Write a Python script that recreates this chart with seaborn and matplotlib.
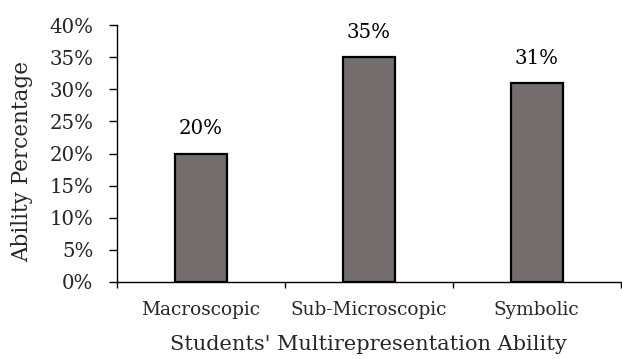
import matplotlib
matplotlib.use("Agg")
import matplotlib.pyplot as plt
import seaborn as sns
import pandas as pd
from matplotlib.ticker import FixedLocator, PercentFormatter

categories = ["Macroscopic", "Sub-Microscopic", "Symbolic"]
values = [20, 35, 31]
value_labels = ["20%", "35%", "31%"]
yticks = [0, 5, 10, 15, 20, 25, 30, 35, 40]

sns.set_theme(style="white")
plt.rcParams["font.family"] = ["DejaVu Serif"]
plt.rcParams["mathtext.fontset"] = "dejavuserif"

df = pd.DataFrame({"cat": categories, "val": values})

fig = plt.figure(figsize=(6.22, 3.59), dpi=100)
ax = fig.add_axes([0.188, 0.2145, 0.810, 0.7155])

sns.barplot(data=df, x="cat", y="val", ax=ax, color="#736e6d",
            saturation=1, width=0.31, edgecolor="black", linewidth=1.6)

ax.set_xlim(-0.5, 2.5)
ax.set_ylim(0, 40)
ax.set_yticks(yticks)
ax.yaxis.set_major_formatter(PercentFormatter(decimals=0))

# category labels in the middle, boundary ticks between categories
ax.set_xticks(range(len(categories)))
ax.set_xticklabels(categories)
ax.tick_params(axis="x", which="major", length=0, pad=14, labelsize=13.3)
ax.xaxis.set_minor_locator(FixedLocator([-0.5, 0.5, 1.5, 2.5]))
ax.tick_params(axis="x", which="minor", bottom=True, length=4, width=1,
               color="black", direction="out")
ax.tick_params(axis="y", length=5.5, width=1, color="black", direction="out",
               labelsize=14.2, pad=11.5, left=True)

for s in ["top", "right"]:
    ax.spines[s].set_visible(False)
for s in ["left", "bottom"]:
    ax.spines[s].set_color("black")
    ax.spines[s].set_linewidth(1)

for i, (v, lab) in enumerate(zip(values, value_labels)):
    ax.annotate(lab, (i, v), xytext=(0, 11), textcoords="offset points",
                ha="center", va="bottom", fontsize=14.2, color="black")

ax.set_xlabel("Students' Multirepresentation Ability", fontsize=15,
              va="center", ha="center")
ax.set_ylabel("Ability Percentage", fontsize=15.5, va="center", ha="center")
ax.xaxis.set_label_coords(0.5, -0.245)
ax.yaxis.set_label_coords(-0.1885, 0.47)

fig.savefig("out.png", dpi=100)
